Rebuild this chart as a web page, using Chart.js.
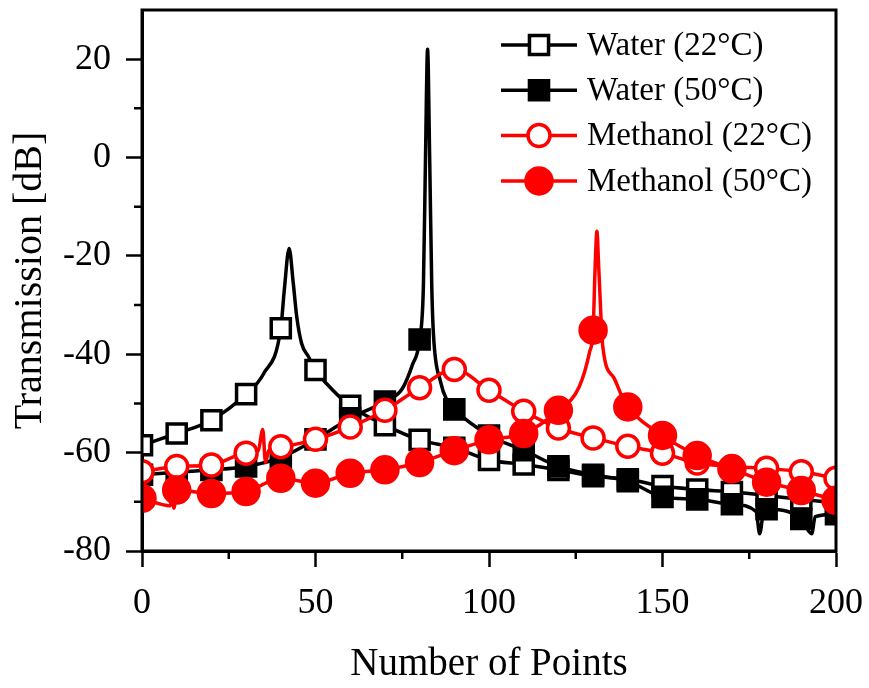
<!DOCTYPE html>
<html>
<head>
<meta charset="utf-8">
<script src="https://cdn.jsdelivr.net/npm/chart.js@4"></script>
<style>
html, body { margin: 0; padding: 0; background: #fff; }
</style>
</head>
<body>
<canvas id="myChart" width="869" height="688"></canvas>
<script>
// Marker positions (every 10 points)
const xMarkers = [0, 10, 20, 30, 40, 50, 60, 70, 80, 90, 100, 110, 120, 130, 140, 150, 160, 170, 180, 190, 200]

const water22Y = [-58.5, -56.1, -53.4, -48.1, -34.7, -43.2, -50.5, -54.4, -57.4, -59.0, -61.5, -62.4, -63.5, -64.8, -65.4, -66.8, -67.5, -68.0, -68.7, -69.5, -70.2]
const water50Y = [-64.5, -64.0, -63.5, -62.8, -61.0, -57.3, -53.0, -49.6, -37.0, -51.2, -56.5, -59.5, -62.8, -64.5, -65.8, -69.0, -69.5, -70.5, -71.5, -73.5, -72.5]
const methanol22Y = [-63.9, -62.8, -62.5, -60.1, -58.8, -57.3, -54.8, -51.4, -46.8, -43.1, -47.3, -51.6, -55.0, -57.0, -58.7, -60.1, -62.1, -62.8, -63.2, -63.9, -65.2]
const methanol50Y = [-69.3, -67.6, -68.3, -67.9, -65.2, -66.2, -64.2, -63.5, -62.0, -59.6, -57.4, -56.1, -51.4, -35.1, -50.7, -56.5, -60.6, -63.3, -66.0, -67.7, -69.7]

// Extra samples (resonance peaks, spikes)
const water22ExtraX = [35, 41, 42.4, 43.6, 44.6, 46, 48, 55]
const water22ExtraY = [-44, -27, -18.5, -25.6, -32.4, -37.8, -40.5, -47.3]
const water50ExtraX = [75, 78, 81.1, 81.7, 82.3, 82.9, 83.5, 84, 86, 88, 177, 178, 179, 193, 194]
const water50ExtraY = [-47, -42, -26, 0, 22, 0, -26, -36, -45.5, -49.5, -72, -76.5, -72.5, -76.5, -73]
const methanol22ExtraX = [33.5, 34.8, 35.6, 36.5]
const methanol22ExtraY = [-59.6, -55.3, -62, -59.6]
const methanol50ExtraX = [8.2, 8.7, 9.2, 126, 129, 130.6, 131.1, 131.6, 132.8, 136, 138.6]
const methanol50ExtraY = [-70.8, -68.5, -71.3, -46.6, -39.5, -22, -15, -22, -38.5, -44.8, -49]

const seriesLabels = ['Water (22°C)', 'Water (50°C)', 'Methanol (22°C)', 'Methanol (50°C)']

const fontFamily = '"Liberation Serif", "Times New Roman", serif'

function buildSeries(ys, exX, exY) {
    const pts = xMarkers.map(function (x, i) { return { x: x, y: ys[i] } })
    exX.forEach(function (x, i) { pts.push({ x: x, y: exY[i] }) })
    pts.sort(function (a, b) { return a.x - b.x })
    return pts
}

function markerRadius(r) {
    return function (c) {
        return (c.raw && c.raw.x % 10 === 0) ? r : 0
    }
}

const styles = [
    { color: '#000000', fill: '#ffffff', pointStyle: 'rect', radius: 13.5 },
    { color: '#000000', fill: '#000000', pointStyle: 'rect', radius: 13.5 },
    { color: '#ff0000', fill: '#ffffff', pointStyle: 'circle', radius: 11 },
    { color: '#ff0000', fill: '#ff0000', pointStyle: 'circle', radius: 13 }
]

const seriesData = [
    buildSeries(water22Y, water22ExtraX, water22ExtraY),
    buildSeries(water50Y, water50ExtraX, water50ExtraY),
    buildSeries(methanol22Y, methanol22ExtraX, methanol22ExtraY),
    buildSeries(methanol50Y, methanol50ExtraX, methanol50ExtraY)
]

const datasets = seriesData.map(function (data, i) {
    const s = styles[i]
    return {
        label: seriesLabels[i],
        data: data,
        borderColor: s.color,
        backgroundColor: s.fill,
        borderWidth: 3.5,
        cubicInterpolationMode: 'monotone',
        pointStyle: s.pointStyle,
        pointRadius: markerRadius(s.radius),
        pointBorderWidth: 3.5,
        pointBorderColor: s.color,
        pointBackgroundColor: s.fill,
        order: 4 - i
    }
})

// Minor ticks (shorter) and the top/right frame
const frameAndMinorTicks = {
    id: 'frameAndMinorTicks',
    afterDraw(chart) {
        const { ctx, chartArea, scales } = chart
        ctx.save()
        ctx.strokeStyle = '#000'
        ctx.lineWidth = 3
        ctx.strokeRect(chartArea.left, chartArea.top, chartArea.right - chartArea.left, chartArea.bottom - chartArea.top)
        ctx.lineWidth = 2.5
        ctx.beginPath()
        scales.x.ticks.forEach(function (t) {
            if (t.value % 50 !== 0) {
                const px = scales.x.getPixelForValue(t.value)
                ctx.moveTo(px, chartArea.bottom)
                ctx.lineTo(px, chartArea.bottom + 8)
            }
        })
        scales.y.ticks.forEach(function (t) {
            if (t.value % 20 !== 0 && t.value !== 30) {
                const py = scales.y.getPixelForValue(t.value)
                ctx.moveTo(chartArea.left, py)
                ctx.lineTo(chartArea.left - 8, py)
            }
        })
        ctx.stroke()
        ctx.restore()
    }
}

// Legend drawn as line + marker + text
const lineLegend = {
    id: 'lineLegend',
    afterDraw(chart) {
        const { ctx } = chart
        ctx.save()
        chart.data.datasets.forEach(function (ds, i) {
            const s = styles[i]
            const y = 45 + i * 45.3
            ctx.strokeStyle = s.color
            ctx.lineWidth = 3.5
            ctx.beginPath()
            ctx.moveTo(501, y)
            ctx.lineTo(577, y)
            ctx.stroke()
            ctx.fillStyle = s.fill
            Chart.helpers.drawPoint(ctx, { pointStyle: s.pointStyle, radius: s.radius, rotation: 0, borderWidth: 3.5 }, 539, y)
            ctx.fillStyle = '#000'
            ctx.font = '33px ' + fontFamily
            ctx.textBaseline = 'middle'
            ctx.textAlign = 'left'
            ctx.fillText(ds.label, 587, y + 1)
        })
        ctx.restore()
    }
}

const myChart = document.getElementById('myChart')

const chart = new Chart(myChart, {
    type: 'line',
    data: { datasets: datasets },
    options: {
        responsive: false,
        animation: false,
        layout: { autoPadding: false, padding: { left: 2, right: 33, top: 10, bottom: 0 } },
        plugins: {
            legend: { display: false },
            tooltip: { enabled: false }
        },
        scales: {
            x: {
                type: 'linear',
                min: 0,
                max: 200,
                afterFit(scale) {
                    scale.height = 137
                    scale.paddingLeft = 0
                    scale.paddingRight = 0
                },
                border: { color: '#000', width: 3 },
                grid: {
                    drawOnChartArea: false,
                    tickLength: 16,
                    tickWidth: 2.5,
                    tickColor: function (c) { return (c.tick && c.tick.value % 50 === 0) ? '#000' : 'rgba(0,0,0,0)' }
                },
                ticks: {
                    stepSize: 25,
                    autoSkip: false,
                    maxRotation: 0,
                    padding: 15,
                    color: '#000',
                    font: { family: fontFamily, size: 36 },
                    callback: function (v) { return v % 50 === 0 ? String(v) : '' }
                },
                title: {
                    display: true,
                    text: 'Number of Points',
                    color: '#000',
                    font: { family: fontFamily, size: 39 },
                    padding: { top: 0, bottom: 0 }
                }
            },
            y: {
                min: -80,
                max: 30,
                afterFit(scale) {
                    scale.width = 140
                    scale.paddingTop = 0
                    scale.paddingBottom = 0
                },
                border: { color: '#000', width: 3 },
                grid: {
                    drawOnChartArea: false,
                    tickLength: 16,
                    tickWidth: 2.5,
                    tickColor: function (c) { return (c.tick && c.tick.value % 20 === 0) ? '#000' : 'rgba(0,0,0,0)' }
                },
                ticks: {
                    stepSize: 10,
                    autoSkip: false,
                    padding: 15,
                    color: '#000',
                    font: { family: fontFamily, size: 36 },
                    callback: function (v) { return v % 20 === 0 ? String(v) : '' }
                },
                title: {
                    display: true,
                    text: 'Transmission [dB]',
                    color: '#000',
                    font: { family: fontFamily, size: 40 },
                    padding: { top: 4, bottom: 4 }
                }
            }
        }
    },
    plugins: [frameAndMinorTicks, lineLegend]
})
</script>
</body>
</html>
